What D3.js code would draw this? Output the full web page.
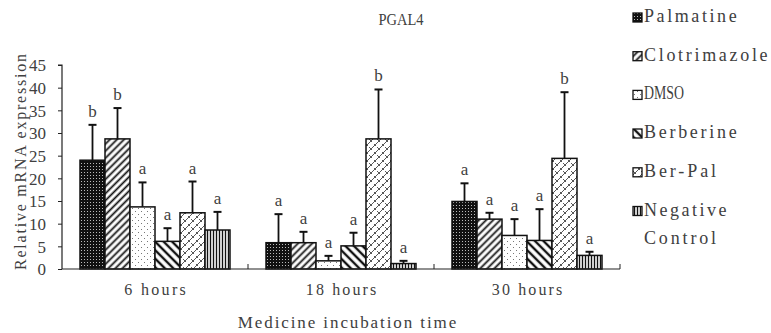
<!DOCTYPE html>
<html><head><meta charset="utf-8">
<script src="https://cdn.jsdelivr.net/npm/d3@7"></script>
<style>
html,body{margin:0;padding:0;background:#fff;}
text{font-family:"Liberation Serif","DejaVu Serif",serif;fill:#404040;}
</style></head>
<body><svg id="c" width="771" height="333"></svg>
<script>
const categories = ["6 hours","18 hours","30 hours"];
const seriesNames = ["Palmatine","Clotrimazole","DMSO","Berberine","Ber-Pal","Negative Control"];
const palmatine    = [24.0, 5.8, 14.9];
const clotrimazole = [28.7, 5.8, 11.0];
const dmso         = [13.7, 1.8, 7.4];
const berberine    = [6.1, 5.1, 6.3];
const berPal       = [12.4, 28.7, 24.4];
const negControl   = [8.6, 1.2, 3.0];
// upper end of error bars
const errPalmatine    = [31.8, 12.1, 18.9];
const errClotrimazole = [35.5, 8.2, 12.4];
const errDmso         = [19.1, 2.9, 11.0];
const errBerberine    = [9.0, 8.0, 13.2];
const errBerPal       = [19.3, 39.6, 39.0];
const errNegControl   = [12.6, 1.8, 3.8];
// significance letters
const letPalmatine    = ["b","a","a"];
const letClotrimazole = ["b","a","a"];
const letDmso         = ["a","a","a"];
const letBerberine    = ["a","a","a"];
const letBerPal       = ["a","b","b"];
const letNegControl   = ["a","a","a"];
const yTicks = [0,5,10,15,20,25,30,35,40,45];

const values = [palmatine,clotrimazole,dmso,berberine,berPal,negControl];
const errs = [errPalmatine,errClotrimazole,errDmso,errBerberine,errBerPal,errNegControl];
const lets = [letPalmatine,letClotrimazole,letDmso,letBerberine,letBerPal,letNegControl];

// monospace-like width: every character gets the same advance
function mono(sel, cw, squeeze){
  sel.each(function(){
    const t = d3.select(this), n = t.text().length;
    t.attr("textLength", n*cw).attr("lengthAdjust", squeeze ? "spacingAndGlyphs" : "spacing");
  });
  return sel;
}

const svg = d3.select("#c");
const defs = svg.append("defs");
const pid = ["p0","p1","p2","p3","p4","p5"];
let p = defs.append("pattern").attr("id","p0").attr("patternUnits","userSpaceOnUse").attr("width",3).attr("height",3);
p.append("rect").attr("width",3).attr("height",3).attr("fill","#111");
p.append("rect").attr("x",1).attr("y",1).attr("width",1).attr("height",1).attr("fill","#bbb");
p = defs.append("pattern").attr("id","p1").attr("patternUnits","userSpaceOnUse").attr("width",5).attr("height",5).attr("patternTransform","rotate(45)");
p.append("rect").attr("width",5).attr("height",5).attr("fill","#fff");
p.append("line").attr("x1",2.5).attr("y1",0).attr("x2",2.5).attr("y2",5).attr("stroke","#111").attr("stroke-width",1.8);
p = defs.append("pattern").attr("id","p2").attr("patternUnits","userSpaceOnUse").attr("width",6).attr("height",6);
p.append("rect").attr("width",6).attr("height",6).attr("fill","#fff");
p.append("rect").attr("x",1).attr("y",1).attr("width",1).attr("height",1).attr("fill","#777");
p.append("rect").attr("x",4).attr("y",4).attr("width",1).attr("height",1).attr("fill","#777");
p = defs.append("pattern").attr("id","p3").attr("patternUnits","userSpaceOnUse").attr("width",6).attr("height",6).attr("patternTransform","rotate(-45)");
p.append("rect").attr("width",6).attr("height",6).attr("fill","#fff");
p.append("line").attr("x1",3).attr("y1",0).attr("x2",3).attr("y2",6).attr("stroke","#111").attr("stroke-width",2.4);
p = defs.append("pattern").attr("id","p4").attr("patternUnits","userSpaceOnUse").attr("width",8).attr("height",8);
p.append("rect").attr("width",8).attr("height",8).attr("fill","#fff");
p.append("path").attr("d","M0,8 L8,0 M-2,2 L2,-2 M6,10 L10,6 M1,3 L4,6 M5,-1 L8,2").attr("stroke","#444").attr("stroke-width",0.9).attr("fill","none");
p = defs.append("pattern").attr("id","p5").attr("patternUnits","userSpaceOnUse").attr("width",3).attr("height",3);
p.append("rect").attr("width",3).attr("height",3).attr("fill","#fff");
p.append("line").attr("x1",1.5).attr("y1",0).attr("x2",1.5).attr("y2",3).attr("stroke","#111").attr("stroke-width",1.4);

const x0 = d3.scaleBand().domain(categories).range([62,620]).padding(0);
const x1 = d3.scaleBand().domain(seriesNames).range([18,168]).padding(0);
const y = d3.scaleLinear().domain([0,45]).range([269,65]);

// title
mono(svg.append("text").attr("x",401).attr("y",25).attr("text-anchor","middle").attr("font-size",17).text("PGAL4"), 9, true);

// bars
categories.forEach((c,ci)=>{
  const g = svg.append("g").attr("transform",`translate(${x0(c)},0)`);
  seriesNames.forEach((s,si)=>{
    const v = values[si][ci], e = errs[si][ci];
    const bx = x1(s), bw = x1.bandwidth(), cx = bx + bw/2;
    g.append("line").attr("x1",cx).attr("x2",cx).attr("y1",y(v)).attr("y2",y(e)).attr("stroke","#111").attr("stroke-width",1.8);
    g.append("line").attr("x1",cx-4).attr("x2",cx+4).attr("y1",y(e)).attr("y2",y(e)).attr("stroke","#111").attr("stroke-width",2);
    g.append("rect").attr("x",bx).attr("y",y(v)).attr("width",bw).attr("height",y(0)-y(v))
      .attr("fill",`url(#${pid[si]})`).attr("stroke","#111").attr("stroke-width",1.5);
    g.append("text").attr("x",cx).attr("y",y(e)-8).attr("text-anchor","middle").attr("font-size",17).text(lets[si][ci]);
  });
});

// y axis
const yAxis = d3.axisLeft(y).tickValues(yTicks).tickSize(4).tickPadding(12).tickFormat(d3.format("d"));
const ya = svg.append("g").attr("transform","translate(62,0)").call(yAxis);
ya.select(".domain").attr("stroke","#222").attr("stroke-width",1.2).attr("d","M-4,65H0V269");
ya.selectAll(".tick line").attr("stroke","#222");
ya.selectAll(".tick text").attr("font-size",17).attr("font-family","Liberation Serif").attr("fill","#404040").attr("dy","0.34em");

// x axis
const xa = svg.append("g").attr("transform","translate(0,269)").call(d3.axisBottom(x0).tickSize(0).tickPadding(15));
xa.select(".domain").attr("stroke","#222").attr("stroke-width",1.2).attr("d","M62,0H620");
mono(xa.selectAll(".tick text").attr("font-size",16).attr("font-family","Liberation Serif").attr("fill","#404040"), 8.8, false);
const seps = categories.map(c=>x0(c)+x0.bandwidth());
svg.selectAll(".sep").data(seps).enter().append("line").attr("x1",d=>d).attr("x2",d=>d).attr("y1",264).attr("y2",269).attr("stroke","#222");

// axis titles
mono(svg.append("text").attr("transform","translate(26,162) rotate(-90)").attr("text-anchor","middle").attr("font-size",16).text("Relative mRNA expression"), 9, false);
mono(svg.append("text").attr("x",347).attr("y",328).attr("text-anchor","middle").attr("font-size",17).text("Medicine incubation time"), 9.1, false);

// legend
const legY = [22,60.7,99.4,138,176.8,215.5];
const leg = svg.append("g");
seriesNames.forEach((s,i)=>{
  leg.append("rect").attr("x",633).attr("y",legY[i]-9).attr("width",9).attr("height",9).attr("fill",`url(#${pid[i]})`).attr("stroke","#111").attr("stroke-width",1.3);
  const parts = s==="Negative Control" ? ["Negative","Control"] : [s];
  parts.forEach((t,k)=>{
    const tx = leg.append("text").attr("x",644).attr("y",legY[i]+k*28).attr("font-size",18).text(t);
    mono(tx, t==="DMSO" ? 10 : 10.3, t==="DMSO");
  });
});
</script></body></html>
